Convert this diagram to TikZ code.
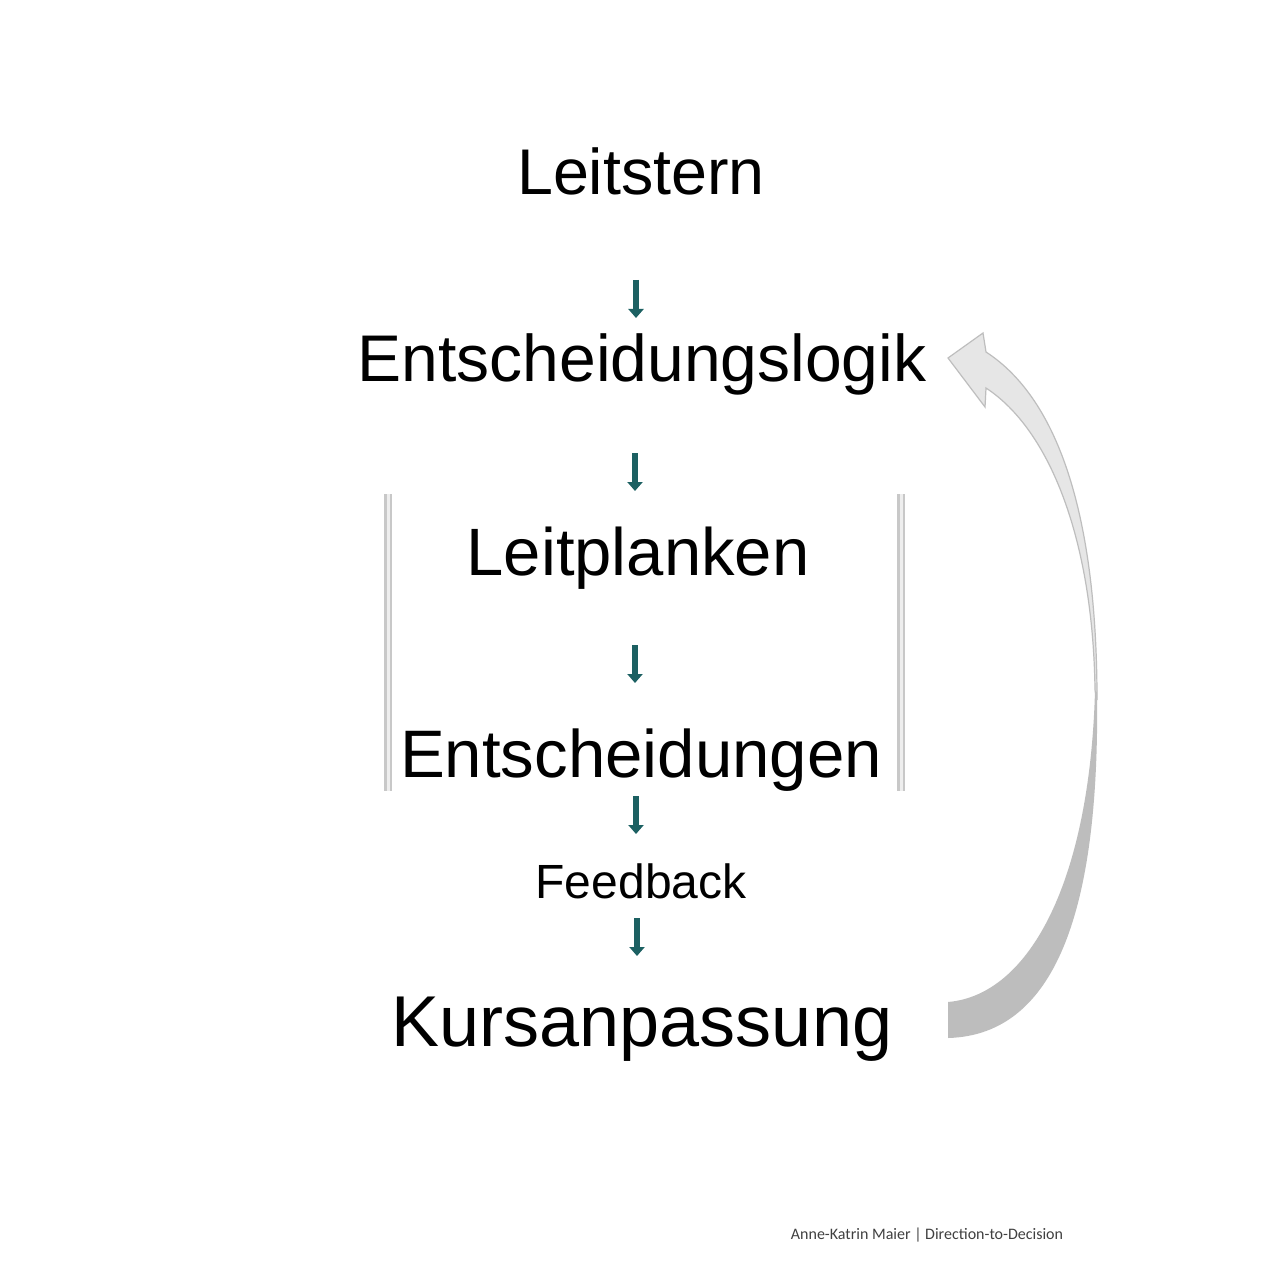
\documentclass[tikz,border=0pt]{standalone}
\usepackage{fontspec}
\setmainfont{Liberation Sans}
\newfontfamily\footfont{Carlito}
\usetikzlibrary{arrows.meta}
\definecolor{teal1}{RGB}{28,96,98}
\definecolor{barcol}{RGB}{200,200,200}
\definecolor{barlight}{RGB}{238,238,238}
\definecolor{curvlight}{RGB}{230,230,230}
\definecolor{curvline}{RGB}{190,190,190}
\definecolor{curvdark}{RGB}{189,189,189}
\definecolor{foottext}{RGB}{64,64,64}
\tikzset{
  lbl/.style={anchor=base, inner sep=0pt, outer sep=0pt, text=black},
  flow/.style={draw=teal1, line width=3pt, -{Triangle[width=7.5pt,length=4.5pt]}},
  railbar/.style={fill=barcol, draw=none},
  raillight/.style={fill=barlight, draw=none}
}
\begin{document}
\begin{tikzpicture}[x=0.5pt,y=-0.5pt]
\useasboundingbox (0,0) rectangle (1272,1272);
\fill[white] (0,0) rectangle (1272,1272);

% text nodes
\node[lbl, font=\fontsize{32.3}{38}\selectfont] (lstern) at (641,195) {Leitstern};
\node[lbl, font=\fontsize{33}{38}\selectfont] (elogik) at (642,382) {Entscheidungslogik};
\node[lbl, font=\fontsize{33.5}{40}\selectfont] (lplanken) at (638,575) {Leitplanken};
\node[lbl, font=\fontsize{33.6}{40}\selectfont] (entsch) at (641,777) {Entscheidungen};
\node[lbl, font=\fontsize{24}{29}\selectfont] (feedback) at (641,898) {Feedback};
\node[lbl, font=\fontsize{36}{43}\selectfont] (kurs) at (642,1046) {Kursanpassung};
\node[lbl, font=\footfont\fontsize{8}{10}\selectfont, text=foottext] (footer) at (927,1239) {Anne-Katrin Maier | Direction-to-Decision};

% arrow coordinates
\coordinate (a1s) at (636,280); \coordinate (a1e) at (636,318);
\coordinate (a2s) at (635,453); \coordinate (a2e) at (635,491);
\coordinate (a3s) at (635,645); \coordinate (a3e) at (635,683);
\coordinate (a4s) at (636,796); \coordinate (a4e) at (636,834);
\coordinate (a5s) at (637,918); \coordinate (a5e) at (637,956);
\draw[flow] (a1s) -- (a1e);
\draw[flow] (a2s) -- (a2e);
\draw[flow] (a3s) -- (a3e);
\draw[flow] (a4s) -- (a4e);
\draw[flow] (a5s) -- (a5e);

% guard rails
\fill[railbar] (384,494) rectangle (392,791);
\fill[raillight] (386.5,494) rectangle (389.5,791);
\fill[railbar] (897,494) rectangle (905,791);
\fill[raillight] (899.5,494) rectangle (902.5,791);

% curved return arrow: lower (back) part
\fill[curvdark] (948,1038) .. controls (1060,1035) and (1100,900) .. (1097,690)
  -- (1095,690) .. controls (1090,880) and (1030,995) .. (948,1002) -- cycle;
% upper (front) part with arrowhead
\filldraw[fill=curvlight, draw=curvline, line width=0.6pt]
  (1097,700) .. controls (1097,520) and (1060,400) .. (986,352)
  -- (983,333) -- (948,358) -- (985,407) -- (986,388)
  .. controls (1050,430) and (1093,540) .. (1095,690) -- cycle;
\end{tikzpicture}
\end{document}
